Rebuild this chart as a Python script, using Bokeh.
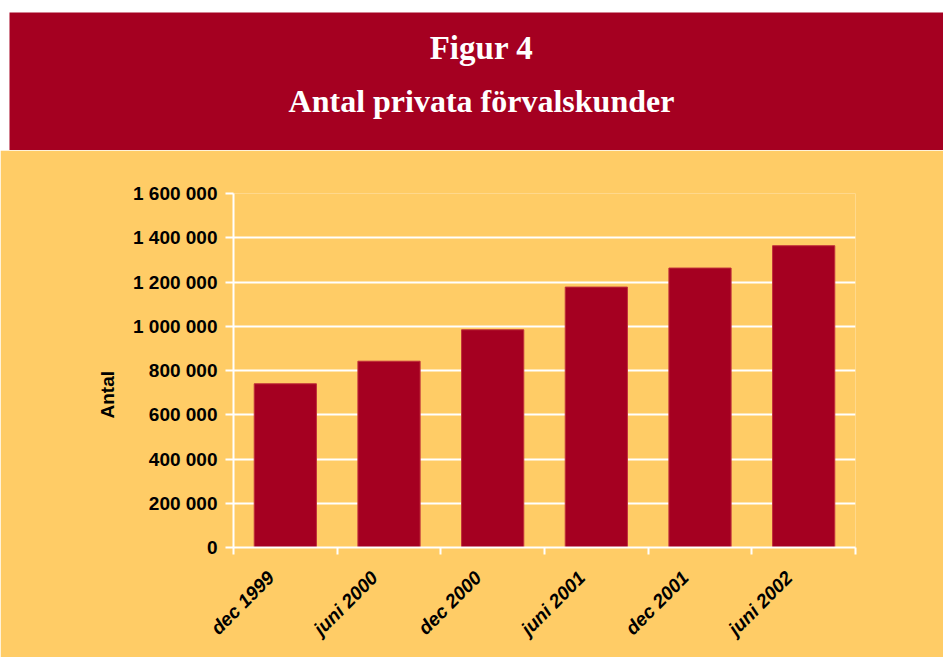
import math
from bokeh.plotting import figure
from bokeh.models import Range1d, FixedTicker, Label, ColumnDataSource, Title
from bokeh.layouts import column, row
from bokeh.embed import file_html
from bokeh.resources import INLINE

# ---- data ----
categories = ["dec 1999", "juni 2000", "dec 2000", "juni 2001", "dec 2001", "juni 2002"]
values = [740000, 842000, 984000, 1177000, 1263000, 1364000]
y_ticks = [0, 200000, 400000, 600000, 800000, 1000000, 1200000, 1400000, 1600000]
y_tick_labels = ["0", "200 000", "400 000", "600 000", "800 000", "1 000 000",
                 "1 200 000", "1 400 000", "1 600 000"]
title_main = "Figur 4"
title_sub = "Antal privata förvalskunder"
y_label = "Antal"

MAROON = "#A50021"
YELLOW = "#FFCC66"
W = 943


def blank(h, fill, border):
    f = figure(width=W, height=h, output_backend="svg", toolbar_location=None,
               x_axis_type=None, y_axis_type=None,
               x_range=Range1d(0, 1), y_range=Range1d(0, 1),
               min_border_top=0, min_border_left=0, min_border_right=0, min_border_bottom=0)
    f.background_fill_color = fill
    f.border_fill_color = border
    f.outline_line_color = None
    return f


# ---- white strip + banner ----
strip = blank(12, "white", "white")
banner = blank(138, MAROON, "white")
banner.min_border_left = 9
for txt, yy, fs in [(title_main, 103, "33px"), (title_sub, 50, "32px")]:
    banner.add_layout(Label(x=472, y=yy, x_units="screen", y_units="screen", text=txt,
                            text_font="Liberation Serif", text_font_style="bold",
                            text_font_size=fs, text_color="white",
                            text_align="center", text_baseline="alphabetic"))

# ---- chart ----
n = len(categories)
centers = [i + 0.5 for i in range(n)]
label_pos = [c - 0.14 for c in centers]
src = ColumnDataSource(dict(x=centers, top=values, cat=categories))

p = figure(width=W, height=507, output_backend="svg", toolbar_location=None,
           x_range=Range1d(0, n), y_range=Range1d(0, 1600000),
           min_border_left=233, min_border_right=88, min_border_top=43, min_border_bottom=110)
p.background_fill_color = YELLOW
p.border_fill_color = YELLOW
p.outline_line_color = None

p.vbar(x="x", top="top", width=0.6, source=src, fill_color=MAROON,
       line_color="#C0303A", line_width=1)

# grid
p.xgrid.grid_line_color = None
p.ygrid.ticker = FixedTicker(ticks=y_ticks)
p.ygrid.grid_line_color = "white"
p.ygrid.grid_line_width = 2

# y axis
ya = p.yaxis[0]
ya.ticker = FixedTicker(ticks=y_ticks)
ya.major_label_overrides = {float(t): l for t, l in zip(y_ticks, y_tick_labels)}
ya.axis_line_color = "white"
ya.axis_line_width = 2
ya.major_tick_line_color = "white"
ya.major_tick_line_width = 2
ya.major_tick_out = 8
ya.major_tick_in = 0
ya.minor_tick_line_color = None
ya.major_label_standoff = 8
ya.major_label_text_font = "Liberation Sans"
ya.major_label_text_font_style = "bold"
ya.major_label_text_font_size = "19px"
ya.major_label_text_color = "black"

# x axis
xa = p.xaxis[0]
xa.ticker = FixedTicker(ticks=label_pos, minor_ticks=list(range(n + 1)))
xa.major_label_overrides = {float(c): lab for c, lab in zip(label_pos, categories)}
xa.axis_line_color = "white"
xa.axis_line_width = 2
xa.major_tick_line_color = None
xa.major_tick_out = 7
xa.major_tick_in = 0
xa.minor_tick_line_color = "white"
xa.minor_tick_line_width = 2
xa.minor_tick_out = 7
xa.minor_tick_in = 0
xa.major_label_orientation = math.pi / 4
xa.major_label_standoff = 20
xa.major_label_text_font = "Liberation Sans"
xa.major_label_text_font_style = "bold italic"
xa.major_label_text_font_size = "19px"
xa.major_label_text_color = "black"

# y axis title
ytitle = Title(text=y_label, align="left", offset=129,
               text_font="Liberation Sans", text_font_style="bold",
               text_font_size="19px", text_color="black")
if "standoff" in Title.properties():
    ytitle.standoff = 24
p.add_layout(ytitle, "left")

layout = column(column(strip, banner, spacing=0), row(p, spacing=0), spacing=0)
open("out.html", "w").write(file_html(layout, INLINE))
